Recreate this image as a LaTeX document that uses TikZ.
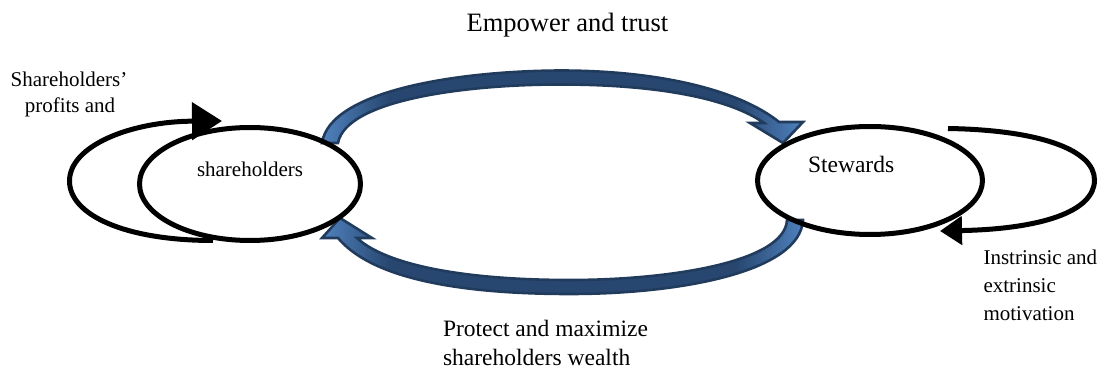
\documentclass[tikz,border=0pt]{standalone}
\usepackage{fontspec}
\setmainfont{Liberation Serif}
\usetikzlibrary{arrows.meta,shapes.geometric}
\definecolor{navy}{HTML}{213B5D}
\definecolor{lblue}{HTML}{4F81BD}
\definecolor{dblue}{HTML}{284770}
\pgfdeclarehorizontalshading{blueends}{100bp}{color(0bp)=(lblue); color(25bp)=(lblue); color(32bp)=(dblue); color(68bp)=(dblue); color(75bp)=(lblue); color(100bp)=(lblue)}
\begin{document}
\begin{tikzpicture}[x=1pt,y=-1pt,
  party/.style={draw=black, line width=5pt, ellipse, inner sep=0pt},
  loopline/.style={draw=black, line width=5pt},
  blueshaft/.style={draw=navy, line width=2.6pt, line join=miter, shading=blueends},
  lbl/.style={inner sep=0pt, outer sep=0pt},
  fa/.style={font=\fontsize{21}{25}\selectfont},
  fb/.style={font=\fontsize{23.5}{28}\selectfont},
  fc/.style={font=\fontsize{26.5}{30}\selectfont}]
\useasboundingbox (0,0) rectangle (1103,371);

% self loops
\draw[loopline, -{Triangle[length=30pt,width=37pt]}]
  (213,240.5) .. controls (125,240.5) and (69.5,215) .. (69.5,181)
  .. controls (69.5,146) and (130,121.5) .. (222,121);
\draw[loopline, -{Triangle[length=22pt,width=28pt]}]
  (948,128.5) .. controls (1040,130) and (1094.5,150) .. (1094.5,180)
  .. controls (1094.5,212) and (1040,229) .. (940,231);

% big blue arrows
\path[blueshaft]
  (322,143) .. controls (330,90) and (460,71) .. (560,70.5)
  .. controls (665,70.5) and (742,92) .. (779,122)
  -- (803,122) -- (783,143) -- (750,123) -- (764,123)
  .. controls (730,99) and (660,84.5) .. (560,84.5)
  .. controls (465,84.5) and (346,100) .. (338,143) -- cycle;
\path[blueshaft]
  (803,220) .. controls (800,272) and (680,294) .. (570,294)
  .. controls (450,294) and (370,276) .. (338,238)
  -- (322,238) -- (340,218) -- (372,238) -- (357,238)
  .. controls (385,264) and (460,280) .. (570,280)
  .. controls (670,280) and (785,262) .. (787,220) -- cycle;

% parties
\node[party, minimum width=221pt, minimum height=113pt] (sh) at (250,184) {};
\node[party, minimum width=225pt, minimum height=108pt] (st) at (870,180.5) {};

% labels
\node[lbl, fc, anchor=base] (t1) at (567.5,31.7) {Empower and trust};
\node[lbl, fa, anchor=base] (l1) at (69,86.7) {Shareholders’};
\node[lbl, fa, anchor=base] (l2) at (70,113) {profits and};
\node[lbl, fa, anchor=base west] (shl) at (197,176.7) {shareholders};
\node[lbl, fb, anchor=base west] (stl) at (808,172.7) {Stewards};
\node[lbl, fa, anchor=base west] (r1) at (983.5,265) {Instrinsic and};
\node[lbl, fa, anchor=base west] (r2) at (983.5,292.5) {extrinsic};
\node[lbl, fa, anchor=base west] (r3) at (983.5,320) {motivation};
\node[lbl, fb, anchor=base west] (b1) at (443,336.7) {Protect and maximize};
\node[lbl, fb, anchor=base west] (b2) at (443,365) {shareholders wealth};
\end{tikzpicture}
\end{document}
